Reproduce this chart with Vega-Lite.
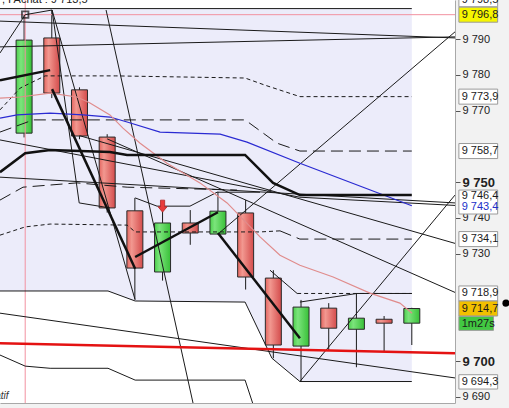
{
  "$schema": "https://vega.github.io/schema/vega-lite/v6.json",
  "width": 455,
  "height": 403,
  "autosize": {"type": "none"},
  "padding": {"left": 0, "top": 0, "right": 54, "bottom": 5},
  "background": "#f2f2f2",
  "config": {"view": {"stroke": null, "fill": "#ffffff"}, "font": "Liberation Sans"},
  "datasets": {
    "candles": [
      {"t": 1, "o": 9763.7, "c": 9789.7, "h": 9796.8, "l": 9762.5},
      {"t": 2, "o": 9790.3, "c": 9774.9, "h": 9798.1, "l": 9773.5},
      {"t": 3, "o": 9775.8, "c": 9762.9, "h": 9776.5, "l": 9762.0},
      {"t": 4, "o": 9762.6, "c": 9742.8, "h": 9763.4, "l": 9741.5},
      {"t": 5, "o": 9742.0, "c": 9726.0, "h": 9745.6, "l": 9717.3},
      {"t": 6, "o": 9724.9, "c": 9738.6, "h": 9741.7, "l": 9722.5},
      {"t": 7, "o": 9738.6, "c": 9735.8, "h": 9742.2, "l": 9732.5},
      {"t": 8, "o": 9735.5, "c": 9741.9, "h": 9747.3, "l": 9735.5},
      {"t": 9, "o": 9741.4, "c": 9723.5, "h": 9745.0, "l": 9720.0},
      {"t": 10, "o": 9723.2, "c": 9704.5, "h": 9725.4, "l": 9700.8},
      {"t": 11, "o": 9704.2, "c": 9715.1, "h": 9717.1, "l": 9694.3},
      {"t": 12, "o": 9714.8, "c": 9709.2, "h": 9716.2, "l": 9703.1},
      {"t": 13, "o": 9708.9, "c": 9712.0, "h": 9718.9, "l": 9698.3},
      {"t": 14, "o": 9711.7, "c": 9710.6, "h": 9712.6, "l": 9702.8},
      {"t": 15, "o": 9710.6, "c": 9714.7, "h": 9714.9, "l": 9704.5}
    ],
    "lines": [
      {"id": "env1", "i": 0, "t": 0.13, "p": 9719.6},
      {"id": "env1", "i": 1, "t": 4.03, "p": 9719.6},
      {"id": "env1", "i": 2, "t": 5.01, "p": 9716.8},
      {"id": "env1", "i": 3, "t": 8.98, "p": 9716.5},
      {"id": "env1", "i": 4, "t": 9.95, "p": 9700.8},
      {"id": "env1", "i": 5, "t": 10.96, "p": 9694.3},
      {"id": "env1", "i": 6, "t": 15, "p": 9694.3},
      {"id": "env2", "i": 0, "t": 0.13, "p": 9701.7},
      {"id": "env2", "i": 1, "t": 1.04, "p": 9698.6},
      {"id": "env2", "i": 2, "t": 1.94, "p": 9698.0},
      {"id": "env2", "i": 3, "t": 4.03, "p": 9698.0},
      {"id": "env2", "i": 4, "t": 5.01, "p": 9694.7},
      {"id": "env2", "i": 5, "t": 8.98, "p": 9694.7},
      {"id": "env2", "i": 6, "t": 9.35, "p": 9686.0},
      {"id": "top", "i": 0, "t": 0.13, "p": 9798.5},
      {"id": "top", "i": 1, "t": 15, "p": 9798.5},
      {"id": "fanA", "i": 0, "t": 0.13, "p": 9795.0},
      {"id": "fanA", "i": 1, "t": 16.56, "p": 9790.3},
      {"id": "fanB", "i": 0, "t": 0.13, "p": 9787.8},
      {"id": "fanB", "i": 1, "t": 16.56, "p": 9790.6},
      {"id": "boxl", "i": 0, "t": 0.13, "p": 9786.1},
      {"id": "boxl", "i": 1, "t": 1.04, "p": 9796.8},
      {"id": "boxl", "i": 2, "t": 2.01, "p": 9798.1},
      {"id": "s1", "i": 0, "t": 2.01, "p": 9798.1},
      {"id": "s1", "i": 1, "t": 2.99, "p": 9744.2},
      {"id": "s1", "i": 2, "t": 4.1, "p": 9742.8},
      {"id": "s2", "i": 0, "t": 2.01, "p": 9798.1},
      {"id": "s2", "i": 1, "t": 5.01, "p": 9717.1},
      {"id": "s3", "i": 0, "t": 3.96, "p": 9798.1},
      {"id": "s3", "i": 1, "t": 7.1, "p": 9688.3},
      {"id": "diagA", "i": 0, "t": 8.0, "p": 9735.5},
      {"id": "diagA", "i": 1, "t": 16.56, "p": 9792.0},
      {"id": "diagB", "i": 0, "t": 10.96, "p": 9694.3},
      {"id": "diagB", "i": 1, "t": 16.56, "p": 9746.4},
      {"id": "t1", "i": 0, "t": 3.0, "p": 9763.0},
      {"id": "t1", "i": 1, "t": 16.56, "p": 9732.9},
      {"id": "t2", "i": 0, "t": 0.13, "p": 9761.8},
      {"id": "t2", "i": 1, "t": 10.96, "p": 9745.8},
      {"id": "t2", "i": 2, "t": 16.56, "p": 9743.5},
      {"id": "t5", "i": 0, "t": 0.13, "p": 9751.4},
      {"id": "t5", "i": 1, "t": 16.56, "p": 9744.2},
      {"id": "t3", "i": 0, "t": 4.0, "p": 9762.1},
      {"id": "t3", "i": 1, "t": 16.56, "p": 9719.2},
      {"id": "t4", "i": 0, "t": 0.13, "p": 9713.4},
      {"id": "t4", "i": 1, "t": 16.56, "p": 9695.3},
      {"id": "hz", "i": 0, "t": 5.01, "p": 9745.6},
      {"id": "hz", "i": 1, "t": 5.8, "p": 9743.3},
      {"id": "hz", "i": 2, "t": 6.99, "p": 9743.3},
      {"id": "hz", "i": 3, "t": 7.97, "p": 9747.2},
      {"id": "hz", "i": 4, "t": 9.52, "p": 9747.2},
      {"id": "c10", "i": 0, "t": 9.88, "p": 9725.4},
      {"id": "c10", "i": 1, "t": 10.86, "p": 9718.9},
      {"id": "c11", "i": 0, "t": 10.96, "p": 9716.5},
      {"id": "c11", "i": 1, "t": 13.02, "p": 9718.9},
      {"id": "c11", "i": 2, "t": 15, "p": 9718.9},
      {"id": "d1", "i": 0, "t": 0.13, "p": 9770.2},
      {"id": "d1", "i": 1, "t": 0.86, "p": 9776.3},
      {"id": "d1", "i": 2, "t": 1.76, "p": 9779.7},
      {"id": "d1", "i": 3, "t": 4.29, "p": 9779.7},
      {"id": "d1", "i": 4, "t": 8.98, "p": 9779.1},
      {"id": "d1", "i": 5, "t": 9.7, "p": 9777.1},
      {"id": "d1", "i": 6, "t": 10.96, "p": 9773.9},
      {"id": "d1", "i": 7, "t": 15, "p": 9773.9},
      {"id": "d3a", "i": 0, "t": 0.13, "p": 9735.2},
      {"id": "d3a", "i": 1, "t": 1.04, "p": 9737.5},
      {"id": "d3a", "i": 2, "t": 1.94, "p": 9738.3},
      {"id": "d3a", "i": 3, "t": 4.72, "p": 9738.0},
      {"id": "d3a", "i": 4, "t": 5.01, "p": 9736.1},
      {"id": "d3a", "i": 5, "t": 9.52, "p": 9736.1},
      {"id": "d3a", "i": 6, "t": 10.24, "p": 9736.4},
      {"id": "d4", "i": 0, "t": 10.86, "p": 9718.9},
      {"id": "d4", "i": 1, "t": 15, "p": 9718.9},
      {"id": "d2", "i": 0, "t": 0.13, "p": 9764.0},
      {"id": "d2", "i": 1, "t": 1.33, "p": 9767.4},
      {"id": "d2", "i": 2, "t": 8.98, "p": 9767.4},
      {"id": "d2", "i": 3, "t": 10.13, "p": 9760.9},
      {"id": "d2", "i": 4, "t": 10.96, "p": 9758.7},
      {"id": "d2", "i": 5, "t": 15, "p": 9758.7},
      {"id": "d3b", "i": 0, "t": 10.24, "p": 9736.4},
      {"id": "d3b", "i": 1, "t": 10.96, "p": 9734.1},
      {"id": "d3b", "i": 2, "t": 15, "p": 9734.1},
      {"id": "ld", "i": 0, "t": 0.13, "p": 9745.0},
      {"id": "ld", "i": 1, "t": 0.96, "p": 9748.6},
      {"id": "ld", "i": 2, "t": 2.91, "p": 9749.8},
      {"id": "ld", "i": 3, "t": 4.72, "p": 9748.6},
      {"id": "ld", "i": 4, "t": 8.69, "p": 9747.8},
      {"id": "k1", "i": 0, "t": 0.13, "p": 9752.8},
      {"id": "k1", "i": 1, "t": 1.04, "p": 9758.1},
      {"id": "k1", "i": 2, "t": 1.94, "p": 9759.0},
      {"id": "k1", "i": 3, "t": 4.1, "p": 9758.4},
      {"id": "k1", "i": 4, "t": 4.72, "p": 9757.6},
      {"id": "k1", "i": 5, "t": 8.98, "p": 9757.6},
      {"id": "k1", "i": 6, "t": 9.99, "p": 9749.8},
      {"id": "k1", "i": 7, "t": 10.96, "p": 9746.4},
      {"id": "k1", "i": 8, "t": 15, "p": 9746.4},
      {"id": "z1", "i": 0, "t": 0.13, "p": 9778.5},
      {"id": "z1", "i": 1, "t": 1.94, "p": 9781.3},
      {"id": "z2", "i": 0, "t": 2.01, "p": 9776.0},
      {"id": "z2", "i": 1, "t": 5.01, "p": 9725.8},
      {"id": "z3", "i": 0, "t": 5.01, "p": 9729.1},
      {"id": "z3", "i": 1, "t": 8.0, "p": 9741.6},
      {"id": "z4", "i": 0, "t": 8.0, "p": 9735.8},
      {"id": "z4", "i": 1, "t": 10.96, "p": 9706.4},
      {"id": "maBlue", "i": 0, "t": 0.13, "p": 9767.9},
      {"id": "maBlue", "i": 1, "t": 0.75, "p": 9768.8},
      {"id": "maBlue", "i": 2, "t": 1.94, "p": 9769.3},
      {"id": "maBlue", "i": 3, "t": 3.13, "p": 9768.8},
      {"id": "maBlue", "i": 4, "t": 4.1, "p": 9768.2},
      {"id": "maBlue", "i": 5, "t": 4.72, "p": 9766.8},
      {"id": "maBlue", "i": 6, "t": 5.91, "p": 9764.0},
      {"id": "maBlue", "i": 7, "t": 8.08, "p": 9763.4},
      {"id": "maBlue", "i": 8, "t": 9.05, "p": 9761.2},
      {"id": "maBlue", "i": 9, "t": 10.96, "p": 9755.3},
      {"id": "maBlue", "i": 10, "t": 15, "p": 9743.4},
      {"id": "maPink", "i": 0, "t": 0.13, "p": 9773.5},
      {"id": "maPink", "i": 1, "t": 0.86, "p": 9773.8},
      {"id": "maPink", "i": 2, "t": 1.94, "p": 9774.9},
      {"id": "maPink", "i": 3, "t": 2.91, "p": 9773.8},
      {"id": "maPink", "i": 4, "t": 3.38, "p": 9772.1},
      {"id": "maPink", "i": 5, "t": 4.1, "p": 9768.8},
      {"id": "maPink", "i": 6, "t": 4.57, "p": 9765.1},
      {"id": "maPink", "i": 7, "t": 5.19, "p": 9760.9},
      {"id": "maPink", "i": 8, "t": 6.16, "p": 9755.3},
      {"id": "maPink", "i": 9, "t": 7.35, "p": 9749.8},
      {"id": "maPink", "i": 10, "t": 8.33, "p": 9744.2},
      {"id": "maPink", "i": 11, "t": 9.52, "p": 9734.7},
      {"id": "maPink", "i": 12, "t": 10.24, "p": 9729.6},
      {"id": "maPink", "i": 13, "t": 10.96, "p": 9726.8},
      {"id": "maPink", "i": 14, "t": 12.16, "p": 9723.5},
      {"id": "maPink", "i": 15, "t": 13.49, "p": 9719.0},
      {"id": "maPink", "i": 16, "t": 14.57, "p": 9716.2},
      {"id": "maPink", "i": 17, "t": 15.01, "p": 9713.4},
      {"id": "support", "i": 0, "t": 0.13, "p": 9705.0},
      {"id": "support", "i": 1, "t": 16.56, "p": 9702.2},
      {"id": "lastHigh", "i": 0, "t": 0.13, "p": 9796.8},
      {"id": "lastHigh", "i": 1, "t": 16.56, "p": 9796.8}
    ],
    "tagBoxes": [
      {"kind": "plain", "t1": 16.7, "t2": 18.1, "lo": 9799.0, "hi": 9803.2},
      {"kind": "high", "t1": 16.7, "t2": 18.1, "lo": 9794.7, "hi": 9798.9},
      {"kind": "plain", "t1": 16.7, "t2": 18.1, "lo": 9771.8, "hi": 9776.0},
      {"kind": "plain", "t1": 16.7, "t2": 18.1, "lo": 9756.6, "hi": 9760.8},
      {"kind": "plain", "t1": 16.7, "t2": 18.1, "lo": 9741.1, "hi": 9747.8},
      {"kind": "plain", "t1": 16.7, "t2": 18.1, "lo": 9732.0, "hi": 9736.2},
      {"kind": "plain", "t1": 16.7, "t2": 18.1, "lo": 9716.8, "hi": 9721.0},
      {"kind": "last", "t1": 16.7, "t2": 18.1, "lo": 9712.6, "hi": 9716.8},
      {"kind": "timer", "t1": 16.7, "t2": 17.95, "lo": 9708.6, "hi": 9712.5},
      {"kind": "plain", "t1": 16.7, "t2": 18.1, "lo": 9692.2, "hi": 9696.2}
    ],
    "tagTexts": [
      {"label": "9 798,5", "p": 9801.0, "tone": "dark"},
      {"label": "9 796,8", "p": 9796.8, "tone": "dark"},
      {"label": "9 773,9", "p": 9773.9, "tone": "dark"},
      {"label": "9 758,7", "p": 9758.7, "tone": "dark"},
      {"label": "9 746,4", "p": 9746.2, "tone": "dark"},
      {"label": "9 743,4", "p": 9743.0, "tone": "blue"},
      {"label": "9 734,1", "p": 9734.1, "tone": "dark"},
      {"label": "9 718,9", "p": 9718.9, "tone": "dark"},
      {"label": "9 714,7", "p": 9714.7, "tone": "dark"},
      {"label": "1m27s", "p": 9710.5, "tone": "dark"},
      {"label": "9 694,3", "p": 9694.2, "tone": "dark"}
    ]
  },
  "layer": [
    {
      "data": {"name": "lines"},
      "transform": [{"filter": "datum.id == 'env1'"}],
      "mark": {"type": "area", "color": "#ececfa", "clip": true},
      "encoding": {
        "x": {"field": "t", "type": "quantitative", "scale": {"domain": [0.13, 16.56], "nice": false, "zero": false, "padding": 0},
          "axis": {"orient": "bottom", "title": null, "labels": false, "ticks": false, "grid": false, "domainColor": "#a8a8a8"}},
        "y": {"field": "p", "type": "quantitative", "scale": {"domain": [9688.3, 9800.9], "nice": false, "zero": false, "padding": 0},
          "axis": {"orient": "right", "title": null, "grid": false,
            "values": [9690, 9700, 9730, 9740, 9750, 9770, 9780, 9790],
            "labelExpr": "replace(format(datum.value, ',d'), ',', ' ')",
            "domainColor": "#a8a8a8", "tickColor": "#555555", "tickSize": 5, "labelPadding": 2,
            "labelColor": "#222222", "labelFont": "Liberation Sans", "labelOverlap": false, "labelFlush": false,
            "labelFontSize": {"condition": {"test": "datum.value == 9700 || datum.value == 9750", "value": 13}, "value": 11},
            "labelFontWeight": {"condition": {"test": "datum.value == 9700 || datum.value == 9750", "value": "bold"}, "value": "normal"}}},
        "y2": {"datum": 9798.5}
      }
    },
    {
      "data": {"name": "candles"},
      "mark": {"type": "rule", "color": "#1a1a1a", "strokeWidth": 1},
      "encoding": {
        "x": {"field": "t", "type": "quantitative", "scale": {"domain": [0.13, 16.56], "nice": false, "zero": false, "padding": 0}},
        "y": {"field": "l", "type": "quantitative", "scale": {"domain": [9688.3, 9800.9], "nice": false, "zero": false, "padding": 0}},
        "y2": {"field": "h"}
      }
    },
    {
      "data": {"name": "candles"},
      "transform": [{"filter": "datum.c < datum.o"}],
      "mark": {"type": "bar", "size": 16, "stroke": "#2a2a2a", "strokeWidth": 1,
        "fill": {"gradient": "linear", "x1": 0, "x2": 1, "y1": 0, "y2": 0,
          "stops": [{"offset": 0, "color": "#e46660"}, {"offset": 0.3, "color": "#f29890"}, {"offset": 1, "color": "#d44c4c"}]}},
      "encoding": {
        "x": {"field": "t", "type": "quantitative", "scale": {"domain": [0.13, 16.56], "nice": false, "zero": false, "padding": 0}},
        "y": {"field": "o", "type": "quantitative", "scale": {"domain": [9688.3, 9800.9], "nice": false, "zero": false, "padding": 0}},
        "y2": {"field": "c"}
      }
    },
    {
      "data": {"name": "candles"},
      "transform": [{"filter": "datum.c >= datum.o"}],
      "mark": {"type": "bar", "size": 16, "stroke": "#2a2a2a", "strokeWidth": 1,
        "fill": {"gradient": "linear", "x1": 0, "x2": 1, "y1": 0, "y2": 0,
          "stops": [{"offset": 0, "color": "#4cd04c"}, {"offset": 0.3, "color": "#7ce47c"}, {"offset": 1, "color": "#38c038"}]}},
      "encoding": {
        "x": {"field": "t", "type": "quantitative", "scale": {"domain": [0.13, 16.56], "nice": false, "zero": false, "padding": 0}},
        "y": {"field": "o", "type": "quantitative", "scale": {"domain": [9688.3, 9800.9], "nice": false, "zero": false, "padding": 0}},
        "y2": {"field": "c"}
      }
    },
    {
      "data": {"values": [{"t": 1.04}]},
      "mark": {"type": "rule", "color": "#f291a0", "strokeWidth": 1},
      "encoding": {
        "x": {"field": "t", "type": "quantitative", "scale": {"domain": [0.13, 16.56], "nice": false, "zero": false, "padding": 0}}
      }
    },
    {
      "data": {"name": "lines"},
      "transform": [{"filter": {"field": "id", "oneOf": ["lastHigh"]}}],
      "mark": {"type": "line", "color": "#f291a0", "strokeWidth": 1, "clip": true},
      "encoding": {
        "x": {"field": "t", "type": "quantitative", "scale": {"domain": [0.13, 16.56], "nice": false, "zero": false, "padding": 0}},
        "y": {"field": "p", "type": "quantitative", "scale": {"domain": [9688.3, 9800.9], "nice": false, "zero": false, "padding": 0}},
        "detail": {"field": "id"},
        "order": {"field": "i"}
      }
    },
    {
      "data": {"name": "lines"},
      "transform": [{"filter": {"field": "id", "oneOf": ["d1", "d3a", "d4"]}}],
      "mark": {"type": "line", "color": "#1a1a1a", "strokeWidth": 1, "strokeDash": [4, 3], "clip": true},
      "encoding": {
        "x": {"field": "t", "type": "quantitative", "scale": {"domain": [0.13, 16.56], "nice": false, "zero": false, "padding": 0}},
        "y": {"field": "p", "type": "quantitative", "scale": {"domain": [9688.3, 9800.9], "nice": false, "zero": false, "padding": 0}},
        "detail": {"field": "id"},
        "order": {"field": "i"}
      }
    },
    {
      "data": {"name": "lines"},
      "transform": [{"filter": {"field": "id", "oneOf": ["d2", "d3b", "ld"]}}],
      "mark": {"type": "line", "color": "#1a1a1a", "strokeWidth": 1, "strokeDash": [12, 6], "clip": true},
      "encoding": {
        "x": {"field": "t", "type": "quantitative", "scale": {"domain": [0.13, 16.56], "nice": false, "zero": false, "padding": 0}},
        "y": {"field": "p", "type": "quantitative", "scale": {"domain": [9688.3, 9800.9], "nice": false, "zero": false, "padding": 0}},
        "detail": {"field": "id"},
        "order": {"field": "i"}
      }
    },
    {
      "data": {"name": "lines"},
      "transform": [{"filter": {"field": "id", "oneOf": ["env1", "env2", "top", "fanA", "fanB", "boxl", "s1", "s2", "s3", "diagA", "diagB", "t1", "t2", "t3", "t4", "t5", "hz", "c10", "c11"]}}],
      "mark": {"type": "line", "color": "#1a1a1a", "strokeWidth": 1, "clip": true},
      "encoding": {
        "x": {"field": "t", "type": "quantitative", "scale": {"domain": [0.13, 16.56], "nice": false, "zero": false, "padding": 0}},
        "y": {"field": "p", "type": "quantitative", "scale": {"domain": [9688.3, 9800.9], "nice": false, "zero": false, "padding": 0}},
        "detail": {"field": "id"},
        "order": {"field": "i"}
      }
    },
    {
      "data": {"name": "lines"},
      "transform": [{"filter": {"field": "id", "oneOf": ["maBlue"]}}],
      "mark": {"type": "line", "color": "#2a2ad2", "strokeWidth": 1.2, "clip": true},
      "encoding": {
        "x": {"field": "t", "type": "quantitative", "scale": {"domain": [0.13, 16.56], "nice": false, "zero": false, "padding": 0}},
        "y": {"field": "p", "type": "quantitative", "scale": {"domain": [9688.3, 9800.9], "nice": false, "zero": false, "padding": 0}},
        "order": {"field": "i"}
      }
    },
    {
      "data": {"name": "lines"},
      "transform": [{"filter": {"field": "id", "oneOf": ["maPink"]}}],
      "mark": {"type": "line", "color": "#e08c8c", "strokeWidth": 1.2, "clip": true},
      "encoding": {
        "x": {"field": "t", "type": "quantitative", "scale": {"domain": [0.13, 16.56], "nice": false, "zero": false, "padding": 0}},
        "y": {"field": "p", "type": "quantitative", "scale": {"domain": [9688.3, 9800.9], "nice": false, "zero": false, "padding": 0}},
        "order": {"field": "i"}
      }
    },
    {
      "data": {"name": "lines"},
      "transform": [{"filter": {"field": "id", "oneOf": ["support"]}}],
      "mark": {"type": "line", "color": "#e41212", "strokeWidth": 2.5, "clip": true},
      "encoding": {
        "x": {"field": "t", "type": "quantitative", "scale": {"domain": [0.13, 16.56], "nice": false, "zero": false, "padding": 0}},
        "y": {"field": "p", "type": "quantitative", "scale": {"domain": [9688.3, 9800.9], "nice": false, "zero": false, "padding": 0}},
        "order": {"field": "i"}
      }
    },
    {
      "data": {"name": "lines"},
      "transform": [{"filter": {"field": "id", "oneOf": ["k1", "z1", "z2", "z3", "z4"]}}],
      "mark": {"type": "line", "color": "#111111", "strokeWidth": 2.5, "clip": true},
      "encoding": {
        "x": {"field": "t", "type": "quantitative", "scale": {"domain": [0.13, 16.56], "nice": false, "zero": false, "padding": 0}},
        "y": {"field": "p", "type": "quantitative", "scale": {"domain": [9688.3, 9800.9], "nice": false, "zero": false, "padding": 0}},
        "detail": {"field": "id"},
        "order": {"field": "i"}
      }
    },
    {
      "data": {"values": [{"t": 1.04, "p": 9796.8}]},
      "mark": {"type": "point", "shape": "square", "size": 42, "filled": false, "stroke": "#111111", "strokeWidth": 1.8},
      "encoding": {
        "x": {"field": "t", "type": "quantitative", "scale": {"domain": [0.13, 16.56], "nice": false, "zero": false, "padding": 0}},
        "y": {"field": "p", "type": "quantitative", "scale": {"domain": [9688.3, 9800.9], "nice": false, "zero": false, "padding": 0}}
      }
    },
    {
      "data": {"values": [{"t": 6, "p": 9743.3}]},
      "mark": {"type": "point", "shape": "M-0.35,-1H0.35V0.1H0.75L0,1L-0.75,0.1H-0.35Z", "size": 144, "filled": true, "fill": "#e83a3a", "stroke": "#b02424", "strokeWidth": 0.8, "opacity": 1},
      "encoding": {
        "x": {"field": "t", "type": "quantitative", "scale": {"domain": [0.13, 16.56], "nice": false, "zero": false, "padding": 0}},
        "y": {"field": "p", "type": "quantitative", "scale": {"domain": [9688.3, 9800.9], "nice": false, "zero": false, "padding": 0}}
      }
    },
    {
      "data": {"name": "tagBoxes"},
      "mark": {"type": "rect", "stroke": "#9a9a9a", "strokeWidth": 1, "clip": false},
      "encoding": {
        "x": {"field": "t1", "type": "quantitative", "scale": {"domain": [0.13, 16.56], "nice": false, "zero": false, "padding": 0}},
        "x2": {"field": "t2"},
        "y": {"field": "lo", "type": "quantitative", "scale": {"domain": [9688.3, 9800.9], "nice": false, "zero": false, "padding": 0}},
        "y2": {"field": "hi"},
        "fill": {"field": "kind", "type": "nominal", "legend": null,
          "scale": {"domain": ["plain", "high", "last", "timer"], "range": ["#ffffff", "#f6f600", "#f2c000", "#42c842"]}}
      }
    },
    {
      "data": {"name": "tagTexts"},
      "mark": {"type": "text", "align": "left", "baseline": "middle", "fontSize": 11, "font": "Liberation Sans", "clip": false},
      "encoding": {
        "x": {"datum": 16.8, "type": "quantitative", "scale": {"domain": [0.13, 16.56], "nice": false, "zero": false, "padding": 0}},
        "y": {"field": "p", "type": "quantitative", "scale": {"domain": [9688.3, 9800.9], "nice": false, "zero": false, "padding": 0}},
        "text": {"field": "label"},
        "color": {"field": "tone", "type": "nominal", "legend": null,
          "scale": {"domain": ["dark", "blue"], "range": ["#1a1a1a", "#2030c8"]}}
      }
    },
    {
      "data": {"values": [{"t": 18.4, "p": 9716.2}]},
      "mark": {"type": "point", "shape": "circle", "size": 50, "filled": true, "color": "#000000", "opacity": 1, "clip": false},
      "encoding": {
        "x": {"field": "t", "type": "quantitative", "scale": {"domain": [0.13, 16.56], "nice": false, "zero": false, "padding": 0}},
        "y": {"field": "p", "type": "quantitative", "scale": {"domain": [9688.3, 9800.9], "nice": false, "zero": false, "padding": 0}}
      }
    },
    {
      "data": {"values": [{"t": 0.2, "p": 9800.1, "label": ", I Achat : 9 713,5"}]},
      "mark": {"type": "text", "align": "left", "baseline": "alphabetic", "fontSize": 11, "color": "#222222", "clip": false},
      "encoding": {
        "x": {"field": "t", "type": "quantitative", "scale": {"domain": [0.13, 16.56], "nice": false, "zero": false, "padding": 0}},
        "y": {"field": "p", "type": "quantitative", "scale": {"domain": [9688.3, 9800.9], "nice": false, "zero": false, "padding": 0}},
        "text": {"field": "label"}
      }
    },
    {
      "data": {"values": [{"t": 0.44, "p": 9689.4, "label": "Indicatif"}]},
      "mark": {"type": "text", "align": "right", "baseline": "alphabetic", "fontSize": 10, "fontStyle": "italic", "color": "#333333", "clip": false},
      "encoding": {
        "x": {"field": "t", "type": "quantitative", "scale": {"domain": [0.13, 16.56], "nice": false, "zero": false, "padding": 0}},
        "y": {"field": "p", "type": "quantitative", "scale": {"domain": [9688.3, 9800.9], "nice": false, "zero": false, "padding": 0}},
        "text": {"field": "label"}
      }
    }
  ]
}
